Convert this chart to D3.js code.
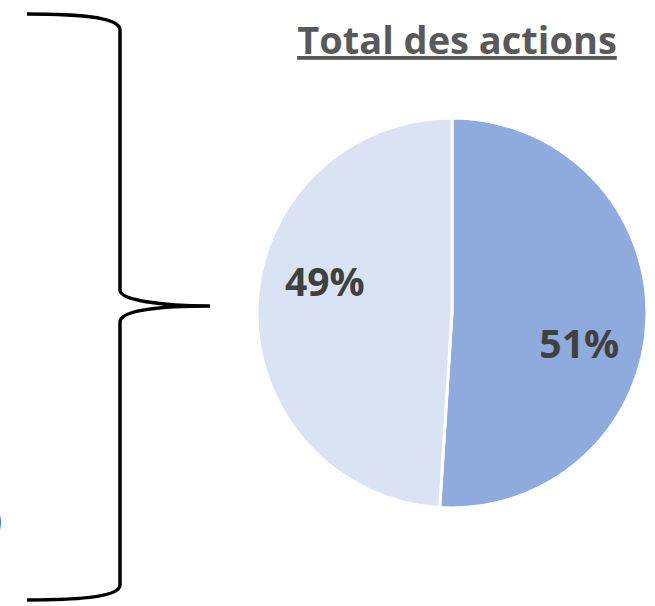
<!DOCTYPE html>
<html>
<head>
<meta charset="utf-8">
<script src="https://cdn.jsdelivr.net/npm/d3@7"></script>
<style>
  body { margin: 0; background: #fff; }
  svg { display: block; }
</style>
</head>
<body>
<div id="chart"></div>
<script>
// data
const categories = ["Part A", "Part B"];
const values = [51, 49];
const labels = ["51%", "49%"];
const colors = ["#8FAADC", "#DAE3F3"];
const title = "Total des actions";

const width = 655, height = 606;
const cx = 452, cy = 313, radius = 195;

const svg = d3.select("#chart").append("svg")
    .attr("width", width)
    .attr("height", height);

// brace on the left
const brace = d3.path();
brace.moveTo(27, 14);
brace.bezierCurveTo(70, 14, 120, 16, 120, 30);
brace.lineTo(120, 290);
brace.bezierCurveTo(120, 300, 160, 306, 210, 306);
brace.moveTo(210, 306);
brace.bezierCurveTo(160, 306, 120, 310, 120, 322);
brace.lineTo(120, 585);
brace.bezierCurveTo(120, 598, 70, 600, 27, 600);

svg.append("path")
    .attr("d", brace.toString())
    .attr("fill", "none")
    .attr("stroke", "#000")
    .attr("stroke-width", 3.5)
    .attr("stroke-linecap", "butt");

// bit of text cut off at the left edge
svg.append("text")
    .attr("x", -8)
    .attr("y", 532)
    .attr("font-family", "Open Sans, sans-serif")
    .attr("font-size", 34)
    .attr("fill", "#404040")
    .text(")");

// title
svg.append("text")
    .attr("x", 457)
    .attr("y", 54)
    .attr("text-anchor", "middle")
    .attr("font-family", "Open Sans, sans-serif")
    .attr("font-weight", "bold")
    .attr("font-size", 38)
    .attr("fill", "#595959")
    .attr("text-decoration", "underline")
    .text(title);

// pie
const pie = d3.pie().sort(null).value(d => d.value);
const arcs = pie(categories.map((c, i) => ({ name: c, value: values[i], label: labels[i], color: colors[i] })));

const arc = d3.arc().innerRadius(0).outerRadius(radius);
const labelShift = 12 * Math.PI / 180;
const labelArc = d3.arc().innerRadius(131).outerRadius(131);

const g = svg.append("g").attr("transform", `translate(${cx},${cy})`);

g.selectAll(".slice")
    .data(arcs)
    .join("path")
    .attr("class", "slice")
    .attr("d", arc)
    .attr("fill", d => d.data.color)
    .attr("stroke", "#fff")
    .attr("stroke-width", 3);

g.selectAll(".lbl")
    .data(arcs)
    .join("text")
    .attr("class", "lbl")
    .attr("transform", d => {
        const c = labelArc.centroid({ startAngle: d.startAngle + labelShift, endAngle: d.endAngle + labelShift });
        return `translate(${c})`;
    })
    .attr("text-anchor", "middle")
    .attr("dy", "0.36em")
    .attr("font-family", "Open Sans, sans-serif")
    .attr("font-weight", "bold")
    .attr("font-size", 39)
    .attr("fill", "#404040")
    .text(d => d.data.label);
</script>
</body>
</html>
